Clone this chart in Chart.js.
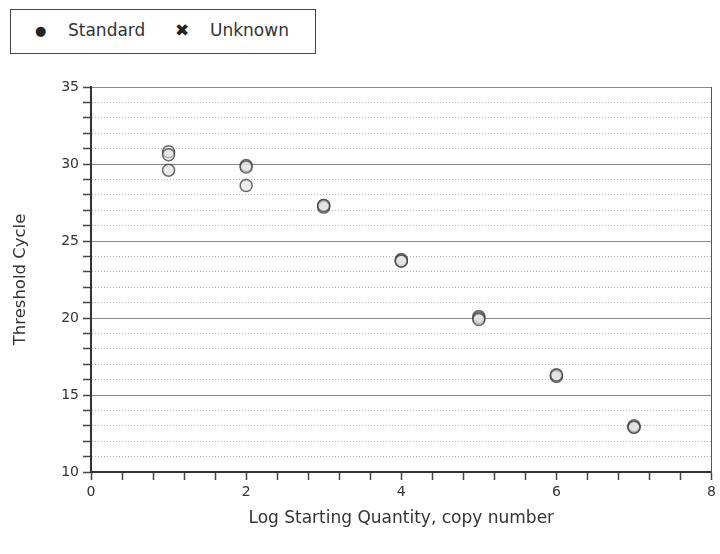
<!DOCTYPE html>
<html>
<head>
<meta charset="utf-8">
<script src="https://cdn.jsdelivr.net/npm/chart.js@4.4.1/dist/chart.umd.min.js"></script>
<style>
  html, body { margin: 0; padding: 0; background: #fff; }
  #wrap { position: relative; width: 720px; height: 554px; }
  #legend {
    position: absolute; left: 10px; top: 9px; width: 304px; height: 43px;
    border: 1px solid #444; background: #fff;
    font-family: "DejaVu Sans", sans-serif; font-size: 17px; color: #333;
  }
  #legend span { position: absolute; top: 10px; white-space: nowrap; }
</style>
</head>
<body>
<div id="wrap">
  <canvas id="c" width="720" height="554"></canvas>
  <div id="legend">
    <span style="left:24px;font-size:13px;top:13px;color:#222">●</span>
    <span style="left:57px">Standard</span>
    <span style="left:164px;font-size:17px;top:10px;color:#222">✖</span>
    <span style="left:199px">Unknown</span>
  </div>
</div>
<script>
// Log starting quantity (x) and threshold cycle (y) of the standard replicates
const logQuantity = [1, 1, 1, 2, 2, 2, 3, 3, 3, 4, 4, 4, 5, 5, 5, 6, 6, 6, 7, 7, 7];
const thresholdCycle = [30.8, 30.6, 29.6, 29.9, 29.8, 28.6, 27.3, 27.2, 27.3,
                        23.8, 23.7, 23.7, 20.1, 20.0, 19.9, 16.3, 16.2, 16.3, 12.9, 13.0, 12.9];
// No unknown samples in this run
const unknownX = [];
const unknownY = [];

const xTickLabels = ['0', '2', '4', '6', '8'];
const yTickLabels = ['10', '15', '20', '25', '30', '35'];

const FONT = { family: 'DejaVu Sans', size: 14 };
const TEXT = '#333';

const standardPts = logQuantity.map((x, i) => ({ x, y: thresholdCycle[i] }));
const unknownPts = unknownX.map((x, i) => ({ x, y: unknownY[i] }));

new Chart(document.getElementById('c'), {
  type: 'scatter',
  data: {
    datasets: [
      {
        label: 'Standard',
        data: standardPts,
        pointRadius: 6,
        pointHoverRadius: 6,
        pointBackgroundColor: 'rgba(225,225,225,0.6)',
        pointBorderColor: 'rgba(60,60,60,0.75)',
        pointBorderWidth: 1.5
      },
      {
        label: 'Unknown',
        data: unknownPts,
        pointStyle: 'crossRot',
        pointRadius: 6,
        pointBorderColor: '#222',
        pointBorderWidth: 3
      }
    ]
  },
  options: {
    responsive: false,
    animation: false,
    layout: { padding: { top: 87, left: 0, right: 0, bottom: 0 } },
    plugins: { legend: { display: false }, tooltip: { enabled: false } },
    scales: {
      x: {
        type: 'linear',
        min: 0, max: 8,
        ticks: {
          stepSize: 0.4,
          autoSkip: false,
          maxRotation: 0,
          font: FONT, color: TEXT, padding: 4,
          callback: (v) => {
            const k = v / 2;
            return Math.abs(k - Math.round(k)) < 1e-6 ? xTickLabels[Math.round(k)] : '';
          }
        },
        grid: { drawOnChartArea: false, tickLength: 8, tickColor: '#444', tickWidth: 1.5 },
        border: { display: true, color: '#333', width: 2 },
        title: {
          display: true, text: 'Log Starting Quantity, copy number',
          font: { family: 'DejaVu Sans', size: 17 }, color: TEXT,
          padding: { top: 4, bottom: 25 }
        },
        afterFit: (s) => { s.height = 82; }
      },
      y: {
        type: 'linear',
        position: 'left',
        min: 10, max: 35,
        ticks: {
          stepSize: 1,
          autoSkip: false,
          font: FONT, color: TEXT, padding: 4,
          callback: (v) => (v % 5 === 0 ? yTickLabels[(v - 10) / 5] : '')
        },
        grid: { color: '#b4b4b4', lineWidth: 1, tickLength: 8, tickColor: '#444', tickWidth: 1.5 },
        border: { display: true, color: '#333', width: 2, dash: [1, 2] },
        title: {
          display: true, text: 'Threshold Cycle',
          font: { family: 'DejaVu Sans', size: 16.5 }, color: TEXT,
          padding: { top: 11, bottom: 10 }
        },
        afterFit: (s) => { s.width = 91; }
      },
      yMajor: {
        type: 'linear',
        position: 'right',
        min: 10, max: 35,
        ticks: { display: false, stepSize: 5 },
        grid: { color: '#8a8a8a', lineWidth: 1, drawTicks: false },
        border: { display: true, color: '#555', width: 1 },
        afterFit: (s) => { s.width = 4; }
      }
    }
  }
});
</script>
</body>
</html>
